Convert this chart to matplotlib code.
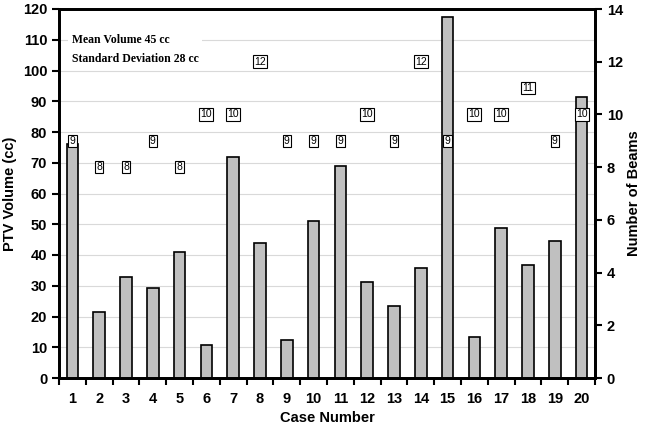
import numpy as np
import matplotlib.pyplot as plt
from matplotlib.ticker import MultipleLocator

cases = list(range(1, 21))
volume = [76, 21.6, 32.8, 29.2, 40.9, 10.6, 72, 43.8, 12.4, 51,
          68.9, 31.2, 23.4, 35.8, 117.3, 13.3, 48.7, 36.6, 44.7, 91.5]
beams = [9, 8, 8, 9, 8, 10, 10, 12, 9, 9, 9, 10, 9, 12, 9, 10, 10, 11, 9, 10]

plt.rcParams['font.family'] = ['Liberation Sans', 'DejaVu Sans']
plt.rcParams['font.weight'] = 'bold'

fig = plt.figure(figsize=(6.45, 4.32), dpi=100)
ax = fig.add_axes([59 / 645, 1 - 378 / 432, 536 / 645, 369 / 432])

ax.bar(cases, volume, width=0.43, color='#c0c0c0', edgecolor='black', linewidth=1.2, zorder=3)
ax.set_xlim(0.5, 20.5)
ax.set_ylim(0, 120)
ax.yaxis.set_major_locator(MultipleLocator(10))
ax.grid(axis='y', color='#d9d9d9', linewidth=0.8, zorder=0)
ax.set_axisbelow(True)

# labels at case centres, tick marks between cases
ax.set_xticks(cases)
ax.set_xticks(np.arange(0.5, 21, 1), minor=True)
ax.tick_params(axis='x', which='major', length=0, pad=10, labelsize=10.5)
ax.tick_params(axis='x', which='minor', length=5, width=1.5, direction='out')
ax.tick_params(axis='y', length=5, width=1.5, direction='out', labelsize=10.5)
for s in ax.spines.values():
    s.set_linewidth(2)

ax.set_xlabel('Case Number', fontsize=10.5, fontweight='bold', labelpad=4)
ax.set_ylabel('PTV Volume (cc)', fontsize=10.5, fontweight='bold', labelpad=4)

ax2 = ax.twinx()
ax2.set_ylim(0, 14)
ax2.yaxis.set_major_locator(MultipleLocator(2))
ax2.tick_params(axis='y', length=5, width=1.5, direction='out', labelsize=10.5)
ax2.set_ylabel('Number of Beams', fontsize=10.5, fontweight='bold', labelpad=3)
for s in ax2.spines.values():
    s.set_linewidth(2)

for c, b in zip(cases, beams):
    ax2.text(c, b, str(b), ha='center', va='center', fontsize=7.5, fontweight='normal',
             bbox=dict(boxstyle='square,pad=0.12', facecolor='white', edgecolor='black', linewidth=0.8),
             zorder=5)

ax.text(0.024, 0.932, 'Mean Volume 45 cc\nStandard Deviation 28 cc', transform=ax.transAxes,
        ha='left', va='top', fontsize=8.5, fontweight='bold', family=['Liberation Serif', 'DejaVu Serif'],
        linespacing=1.75, zorder=4,
        bbox=dict(boxstyle='square,pad=0.3', facecolor='white', edgecolor='none'))

fig.savefig('out.png', dpi=100)
